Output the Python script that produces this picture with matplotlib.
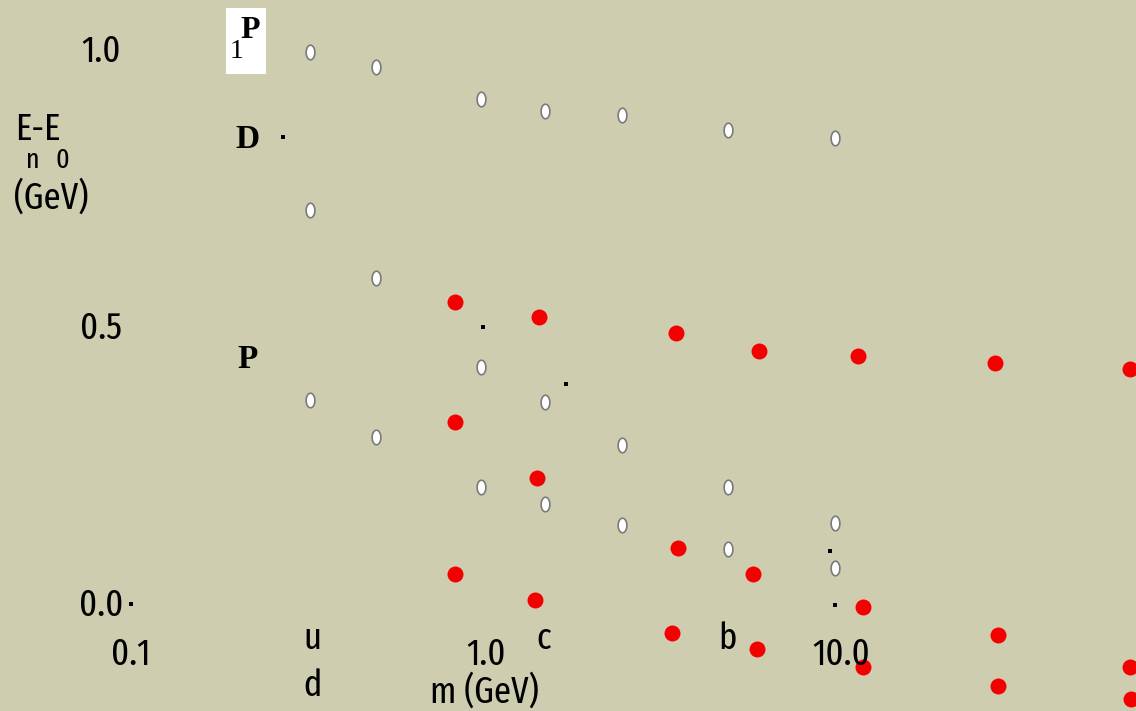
import numpy as np
import matplotlib
matplotlib.use('Agg')
import matplotlib.pyplot as plt
from matplotlib import font_manager

# data: quark mass m (GeV), level E_n - E_0 (GeV)
white_m = [0.32, 0.49, 0.97, 1.47, 2.42, 4.8, 9.6,
           0.32, 0.49,
           0.32, 0.49, 0.97, 1.47, 2.42, 4.8, 9.6,
           0.97, 1.47, 2.42, 4.8, 9.6]
white_e = [1.000, 0.973, 0.915, 0.894, 0.886, 0.859, 0.845,
           0.715, 0.592,
           0.372, 0.305, 0.431, 0.368, 0.291, 0.215, 0.150,
           0.215, 0.184, 0.146, 0.103, 0.069]

red_m = [0.82, 1.41, 3.43, 5.87, 11.2, 27.2, 65.2,
         0.82, 1.39,
         3.47, 5.65, 0.82, 1.37, 11.5,
         3.34, 5.80, 27.7, 11.5, 27.7, 65.2, 65.8]
red_e = [0.549, 0.522, 0.493, 0.460, 0.451, 0.439, 0.428,
         0.332, 0.231,
         0.105, 0.058, 0.058, 0.011, -0.002,
         -0.049, -0.078, -0.052, -0.110, -0.144, -0.110, -0.168]

dot_m = [0.1, 0.268, 0.98, 1.68, 9.31, 9.6]
dot_e = [0.004, 0.847, 0.504, 0.401, 0.099, 0.002]

x_ticks = [0.1, 1.0, 10.0]
x_tick_labels = ['0.1', '1.0', '10.0']
y_ticks = [1.0, 0.5, 0.0]
y_tick_labels = ['1.0', '0.5', '0.0']

quark_labels = ['u', 'd', 'c', 'b']
quark_m = [0.324, 0.324, 1.45, 4.8]
quark_e = [-0.058, -0.143, -0.058, -0.058]

# look for a narrow sans face, the labels in the picture are very condensed
def pick_narrow():
    best = None
    for f in font_manager.fontManager.ttflist:
        n = f.name
        if f.style != 'normal' or f.weight not in (400, 'normal', 'regular'):
            continue
        if 'ExtraCondensed' in n or 'Extra Condensed' in n:
            score = 4
        elif 'SemiCondensed' in n or 'Semi Condensed' in n:
            score = 1
        elif 'Condensed' in n or 'Narrow' in n:
            score = 3
        elif f.stretch in ('condensed', 'extra-condensed') and n in ('DejaVu Sans', 'Noto Sans', 'Open Sans'):
            score = 2
        else:
            continue
        if best is None or score > best[0]:
            best = (score, f.fname)
    return best


found = pick_narrow()
if found:
    lab_font = font_manager.FontProperties(fname=found[1])
    fs = 27
else:
    lab_font = font_manager.FontProperties(family='DejaVu Sans')
    fs = 20

bg = '#cfcdb0'
fig = plt.figure(figsize=(11.36, 7.11), dpi=100, facecolor=bg)
ax = fig.add_axes([0, 0, 1, 1], facecolor=bg)
ax.set_xscale('log')
ax.set_xlim(10 ** -1.369, 10 ** 1.831)
ax.set_ylim(-0.1895, 1.0939)
ax.axis('off')

t = np.linspace(0, 2 * np.pi, 41)
ellipse = list(zip(0.6 * np.cos(t), np.sin(t)))

ax.plot(white_m, white_e, ls='none', marker=ellipse, ms=10.5,
        mfc='white', mec='#7a7a7a', mew=1.2)
ax.plot(red_m, red_e, ls='none', marker='o', ms=11.5, mfc='#f50000',
        mec='#f50000', mew=0)
ax.plot(dot_m, dot_e, ls='none', marker='s', ms=2.2, mfc='black', mec='black', mew=0)

for x, lab in zip(x_ticks, x_tick_labels):
    ax.text(x, -0.0884, lab, fontproperties=lab_font, fontsize=fs, ha='center', va='center')
for y, lab in zip(y_ticks, y_tick_labels):
    ax.text(0.0823, y, lab, fontproperties=lab_font, fontsize=fs, ha='center', va='center')
for lab, x, y in zip(quark_labels, quark_m, quark_e):
    ax.text(x, y, lab, fontproperties=lab_font, fontsize=fs, ha='center', va='center')


def px(x, y):
    return x / 1136, 1 - y / 711


fig.text(*px(15, 130), 'E-E', fontproperties=lab_font, fontsize=fs, ha='left', va='center')
fig.text(*px(33, 160), 'n', fontproperties=lab_font, fontsize=fs * 0.75, ha='center', va='center')
fig.text(*px(62, 160), '0', fontproperties=lab_font, fontsize=fs * 0.75, ha='center', va='center')
fig.text(*px(14, 198), '(GeV)', fontproperties=lab_font, fontsize=fs, ha='left', va='center')
fig.text(*px(484, 692), 'm (GeV)', fontproperties=lab_font, fontsize=fs, ha='center', va='center')

fig.patches.append(plt.Rectangle(px(226, 74), 40 / 1136, 66 / 711,
                                 transform=fig.transFigure, facecolor='white',
                                 edgecolor='none'))
fig.text(*px(250, 31), 'P', fontsize=23, family='Liberation Serif',
         weight='bold', ha='center', va='center')
fig.text(*px(237, 52), '1', fontsize=20, family='Liberation Serif',
         ha='center', va='center')
fig.text(*px(248, 140), 'D', fontsize=24, family='Liberation Serif',
         weight='bold', ha='center', va='center')
fig.text(*px(248, 360), 'P', fontsize=24, family='Liberation Serif',
         weight='bold', ha='center', va='center')

fig.savefig('out.png', dpi=100, facecolor=bg)
